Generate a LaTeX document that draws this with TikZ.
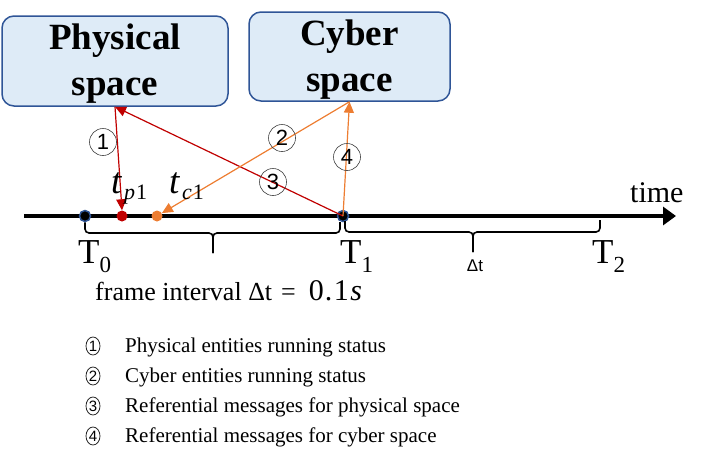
\documentclass[tikz,border=0pt]{standalone}
\usepackage{fontspec}
\setmainfont{Liberation Serif}
\newfontfamily\lsans{Liberation Sans}
\usetikzlibrary{arrows.meta,shapes.geometric}
\definecolor{boxfill}{HTML}{DEEBF7}
\definecolor{boxline}{HTML}{2F5597}
\definecolor{redc}{HTML}{C00000}
\definecolor{orangec}{HTML}{ED7D31}
\newcommand\Tsub[1]{T\raisebox{-9pt}{\fontsize{23}{23}\selectfont #1}}
\newcommand\tsub[1]{\textit{t}\kern2pt\raisebox{-6pt}{\fontsize{22}{22}\selectfont\textit{#1}\kern1pt 1}}
\begin{document}
\begin{tikzpicture}[x=1pt,y=-1pt,
  spacebox/.style={draw=boxline, fill=boxfill, line width=1.5pt, rounded corners=12pt, inner sep=0pt},
  boxtxt/.style={align=center, font=\fontsize{37}{42}\selectfont\bfseries, inner sep=0pt},
  evdot/.style={circle, inner sep=0pt, minimum size=11pt},
  tdot/.style={evdot, fill=black, draw=boxline, line width=1.5pt},
  num/.style={circle, draw=black!75, line width=0.6pt, inner sep=0pt, minimum size=27pt,
    font=\lsans\fontsize{22}{22}\selectfont},
  redarr/.style={draw=redc, line width=1.2pt, -{Triangle[length=11pt,width=10pt]}, redc},
  orarr/.style={draw=orangec, line width=1.2pt, -{Triangle[length=11pt,width=10pt]}, orangec},
  bracel/.style={line width=1.6pt, rounded corners=4pt},
  tlabel/.style={anchor=base west, inner sep=0pt, font=\fontsize{35}{35}\selectfont},
  mlabel/.style={anchor=base west, inner sep=0pt, font=\fontsize{37}{37}\selectfont},
  legnum/.style={ellipse, draw=black!85, line width=0.8pt, inner sep=0pt, minimum width=14pt,
    minimum height=18pt, font=\lsans\fontsize{15}{15}\selectfont},
  legtxt/.style={anchor=base west, inner sep=0pt, font=\fontsize{21}{21}\selectfont},
]
\useasboundingbox (0,0) rectangle (709,469);

% boxes
\node[spacebox, minimum width=226pt, minimum height=90pt] (phys) at (115,61) {};
\node[boxtxt] (physlbl) at (115,64) {Physical\\[4pt]space};
\node[spacebox, minimum width=201pt, minimum height=89pt] (cyber) at (349.5,56.5) {};
\node[boxtxt] (cyberlbl) at (349.5,60) {Cyber\\[4pt]space};

% timeline
\coordinate (tlstart) at (24,216);
\coordinate (tlend) at (676,216);
\draw[line width=4.5pt, -{Triangle[length=13pt,width=18pt]}] (tlstart) -- (tlend);
\node[anchor=base west, inner sep=0pt, font=\fontsize{30}{30}\selectfont] (time) at (630,202) {time};

% dots
\node[tdot] (T0) at (85,216) {};
\node[evdot, fill=redc] (tp) at (122,216) {};
\node[evdot, fill=orangec] (tc) at (157,216) {};
\node[tdot] (T1) at (343,216) {};

% arrows
\draw[redarr] (phys.south) -- (tp.north);
\draw[redarr] (T1.center) -- (phys.south);
\draw[orarr] (cyber.south) -- (tc);
\draw[orarr] (T1.center) -- (cyber.south);

% circled numbers
\node[num] (n1) at (103,142) {1};
\node[num] (n2) at (282,138) {2};
\node[num] (n3) at (273,182) {3};
\node[num] (n4) at (347,157) {4};

% event labels
\node[mlabel] (ltp) at (111,193) {\tsub{p}};
\node[mlabel] (ltc) at (169,193) {\tsub{c}};

% braces
\draw[bracel] (T0.south) |- (213,233) -- (213,253);
\draw[bracel] (340,222) |- (213,233) -- (213,253);
\draw[bracel] (345,221) |- (473,232) -- (473,252);
\draw[bracel] (600,220) |- (473,232) -- (473,252);

% T labels
\node[tlabel] (lT0) at (78,263) {\Tsub{0}};
\node[tlabel] (lT1) at (340,263) {\Tsub{1}};
\node[tlabel] (lT2) at (592,263) {\Tsub{2}};
\node[inner sep=0pt, font=\lsans\fontsize{17}{17}\selectfont] (dt) at (475,266) {Δt};
\node[anchor=base west, inner sep=0pt, font=\fontsize{26}{26}\selectfont] (frame) at (95,300)
  {frame interval Δt\hspace{9pt}=\hspace{13pt}{\fontsize{30}{30}\selectfont 0\kern1pt.\kern1.5pt1\kern1.5pt\textit{s}}};

% legend
\node[legnum] (g1) at (93,346) {1};
\node[legtxt] (t1) at (125,352) {Physical entities running status};
\node[legnum] (g2) at (93,376) {2};
\node[legtxt] (t2) at (125,382) {Cyber entities running status};
\node[legnum] (g3) at (93,406) {3};
\node[legtxt] (t3) at (125,412) {Referential messages for physical space};
\node[legnum] (g4) at (93,436) {4};
\node[legtxt] (t4) at (125,442) {Referential messages for cyber space};
\end{tikzpicture}
\end{document}
